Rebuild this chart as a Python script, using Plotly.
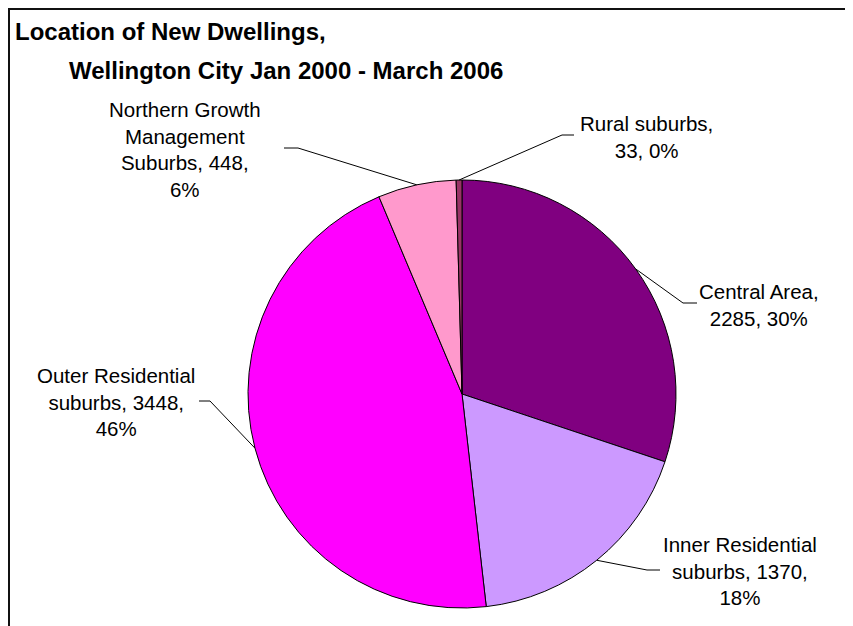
import math
import plotly.graph_objects as go

# ---- data ----
categories = ["Central Area", "Inner Residential suburbs", "Outer Residential suburbs",
              "Northern Growth Management Suburbs", "Rural suburbs"]
label_names = ["Central Area,", "Inner Residential<br>suburbs,", "Outer Residential<br>suburbs,",
               "Northern Growth<br>Management<br>Suburbs,", "Rural suburbs,<br>"]
dwellings = [2285, 1370, 3448, 448, 33]
percent_labels = [30, 18, 46, 6, 0]
colors = ["#800080", "#CC99FF", "#FF00FF", "#FF99CC", "#993366"]

# page is offset by the browser's default 8px body margin
OFF = 8
W, H = 845, 618
CX, CY, R = 462, 394, 214   # page pixel coordinates


def px(x):
    return (x - OFF) / W


def py(y):
    return 1 - (y - OFF) / H


fig = go.Figure(go.Pie(
    labels=categories,
    values=dwellings,
    sort=False,
    direction="clockwise",
    rotation=0,
    marker=dict(colors=colors, line=dict(color="#000000", width=1)),
    textinfo="none",
    hoverinfo="label+value+percent",
    showlegend=False,
    domain=dict(x=[px(CX - R), px(CX + R)], y=[py(CY + R), py(CY - R)]),
))

# label text layout: (text centre x, centre y, knee x, knee y, end-of-horizontal x)
label_layout = [
    (759, 305, 683, 303, 697),   # Central
    (740, 571, 647, 570, 660),   # Inner
    (116, 402, 210, 401, 199),   # Outer
    (185, 149, 298, 148, 284),   # Northern
    (646, 137, 562, 135, 574),   # Rural
]

total = sum(dwellings)
cum = 0
shapes = []
annotations = []
for i, v in enumerate(dwellings):
    mid = (cum + v / 2) / total * 2 * math.pi
    cum += v
    ax = CX + R * math.sin(mid)
    ay = CY - R * math.cos(mid)
    tx, ty, kx, ky, hx = label_layout[i]
    shapes.append(dict(
        type="path", xref="paper", yref="paper",
        path=f"M {px(ax)},{py(ay)} L {px(kx)},{py(ky)} L {px(hx)},{py(ky)}",
        line=dict(color="#000000", width=1),
    ))
    name = label_names[i]
    if name.endswith("<br>"):
        text = f"{name}{v}, {percent_labels[i]}%"
    elif i == 0:
        text = f"{name}<br>{v}, {percent_labels[i]}%"
    else:
        text = f"{name} {v},<br>{percent_labels[i]}%"
    annotations.append(dict(
        x=px(tx), y=py(ty), xref="paper", yref="paper",
        text=text, showarrow=False, xanchor="center", yanchor="middle",
        align="center",
        font=dict(family="Liberation Sans, Arial, sans-serif", size=20.5, color="#000000"),
    ))

annotations.append(dict(
    x=px(13), y=py(31), xref="paper", yref="paper",
    text="<b>Location of New Dwellings,</b>", showarrow=False,
    xanchor="left", yanchor="middle",
    font=dict(family="Liberation Sans, Arial, sans-serif", size=24, color="#000000"),
))
annotations.append(dict(
    x=px(67), y=py(70), xref="paper", yref="paper",
    text="<b>Wellington City Jan 2000 - March 2006</b>", showarrow=False,
    xanchor="left", yanchor="middle",
    font=dict(family="Liberation Sans, Arial, sans-serif", size=24, color="#000000"),
))

# chart frame (left and top edges visible)
shapes.append(dict(type="path", xref="paper", yref="paper",
                   path=f"M {px(9)},0 L {px(9)},{py(9)} L 1,{py(9)}",
                   line=dict(color="#111111", width=2)))

fig.update_layout(
    width=W, height=H,
    margin=dict(l=0, r=0, t=0, b=0),
    paper_bgcolor="#FFFFFF",
    plot_bgcolor="#FFFFFF",
    shapes=shapes,
    annotations=annotations,
)

fig.write_html("out.html")
